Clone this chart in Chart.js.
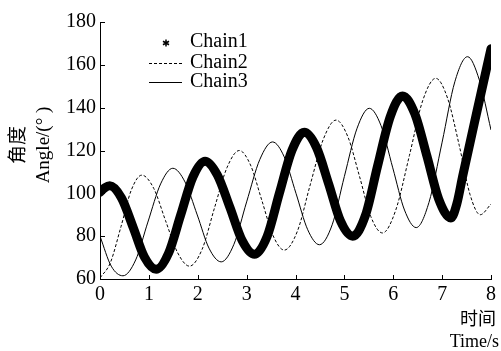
<!DOCTYPE html>
<html>
<head>
<meta charset="utf-8">
<script src="https://cdn.jsdelivr.net/npm/chart.js@4.4.1/dist/chart.umd.min.js"></script>
<style>
  html, body { margin: 0; padding: 0; background: #fff; }
  #wrap { width: 501px; height: 351px; }
</style>
</head>
<body>
<div id="wrap"><canvas id="chart" width="501" height="351"></canvas></div>
<script>
// time (s) and angle (deg)
const chain1T = [0, 0.1, 0.2, 0.44, 0.68, 0.91, 1.15, 1.4, 1.65, 1.9, 2.15, 2.4, 2.66, 2.91, 3.16,
  3.42, 3.67, 3.93, 4.18, 4.43, 4.68, 4.92, 5.17, 5.43, 5.68, 5.94, 6.19, 6.44, 6.69, 6.93, 7.18,
  7.3, 7.42, 7.71, 8];
const chain1V = [100.5, 102.6, 103.5, 97.8, 84, 70.2, 64.5, 71.9, 89.8, 107.6, 115, 108.6, 93.3, 77.9, 71.5,
  79.9, 100, 120.2, 128.5, 121.4, 104.3, 87.1, 80, 89.6, 112.8, 135.9, 145.5, 137.2, 117.3, 97.3, 88.5,
  95, 108, 138, 167.5];

const chain2T = [0, 0.21, 0.43, 0.64, 0.855, 1.1, 1.34, 1.59, 1.83, 2.09, 2.34, 2.6, 2.85, 3.08, 3.31,
  3.54, 3.77, 4.04, 4.3, 4.57, 4.83, 5.07, 5.31, 5.54, 5.78, 6.05, 6.33, 6.6, 6.87, 7.11, 7.35, 7.57,
  7.78, 8];
const chain2V = [60.5, 67.5, 84.5, 101.5, 108.5, 102.3, 87.3, 72.2, 66, 73.9, 93, 112.1, 120, 113.2, 96.8,
  80.3, 73.5, 82.4, 103.9, 125.3, 134.2, 126.5, 107.9, 89.2, 81.5, 92.1, 117.6, 143.1, 153.7, 144.5, 122.4, 99.5,
  90, 95];

const chain3T = [0, 0.23, 0.47, 0.73, 0.98, 1.24, 1.49, 1.74, 1.99, 2.23, 2.48, 2.74, 3.0, 3.27, 3.53,
  3.77, 4.01, 4.25, 4.49, 4.75, 5.0, 5.26, 5.51, 5.75, 5.99, 6.23, 6.47, 6.73, 7.0, 7.26, 7.52, 7.76, 8];
const chain3V = [80, 66, 61.5, 68.9, 86.6, 104.4, 111.7, 105.3, 89.9, 74.4, 68, 76.2, 96, 115.8, 124,
  117, 100, 83, 76, 85.3, 107.9, 130.4, 139.7, 131.6, 111.9, 92.2, 84, 95.7, 123.9, 152.1, 163.8, 153, 129.6];

const xTicks = [0, 8, 1];     // min, max, step
const yTicks = [60, 180, 20];
const seriesNames = ["Chain1", "Chain2", "Chain3"];
const xTitle = ["时间", "Time/s"];
const yTitle = ["角度", "Angle/(° )"];

const SERIF = "'Liberation Serif', 'Times New Roman', 'Noto Sans CJK SC', serif";

function pts(ts, vs) {
  return ts.map((t, i) => ({ x: t, y: vs[i] }));
}

// inward tick marks, axis titles and the in-plot legend
const extras = {
  id: "extras",
  afterDraw(chart) {
    const ctx = chart.ctx;
    const xs = chart.scales.x, ys = chart.scales.y;
    ctx.save();
    ctx.strokeStyle = "#000";
    ctx.lineWidth = 1;
    ctx.beginPath();
    xs.ticks.forEach((t) => {
      if (t.value === xTicks[0]) return;
      const px = Math.round(xs.getPixelForValue(t.value)) + 0.5;
      ctx.moveTo(px, xs.top);
      ctx.lineTo(px, xs.top - 4);
    });
    ys.ticks.forEach((t) => {
      if (t.value === yTicks[0]) return;
      const py = Math.round(ys.getPixelForValue(t.value)) + 0.5;
      ctx.moveTo(ys.right, py);
      ctx.lineTo(ys.right + 5, py);
    });
    ctx.stroke();

    ctx.fillStyle = "#000";
    ctx.textBaseline = "middle";

    // x title, right aligned under the axis end
    ctx.font = "18px " + SERIF;
    ctx.textAlign = "right";
    ctx.fillText(xTitle[0], 496, 320);
    ctx.fillText(xTitle[1], 499, 342);

    // y title, rotated
    ctx.textAlign = "center";
    [19, 44].forEach((cx, i) => {
      ctx.save();
      ctx.translate(cx, 145);
      ctx.rotate(-Math.PI / 2);
      ctx.font = (i === 0 ? "19px " : "19px ") + SERIF;
      ctx.fillText(yTitle[i], 0, 0);
      ctx.restore();
    });

    // legend
    const lx = 149, lw = 33, tx = 190;
    const rows = [42, 62.5, 82];
    ctx.font = "20px " + SERIF;
    ctx.textAlign = "left";
    chart.data.datasets.forEach((ds, i) => {
      const yy = rows[i];
      ctx.beginPath();
      if (i === 0) {
        const cx = 166, cy = yy + 1, r = 3.5;
        for (let k = 0; k < 3; k++) {
          const a = Math.PI / 2 + (k * Math.PI) / 3;
          ctx.moveTo(cx + r * Math.cos(a), cy + r * Math.sin(a));
          ctx.lineTo(cx - r * Math.cos(a), cy - r * Math.sin(a));
        }
        ctx.setLineDash([]);
        ctx.lineWidth = 1.5;
      } else {
        ctx.moveTo(lx, Math.round(yy) + 0.5);
        ctx.lineTo(lx + lw, Math.round(yy) + 0.5);
        ctx.setLineDash(ds.borderDash || []);
        ctx.lineWidth = 1;
      }
      ctx.stroke();
      ctx.setLineDash([]);
      ctx.fillText(ds.label, tx, yy);
    });
    ctx.restore();
  },
};

new Chart(document.getElementById("chart"), {
  type: "line",
  data: {
    datasets: [
      {
        label: seriesNames[0],
        data: pts(chain1T, chain1V),
        borderColor: "#000",
        borderWidth: 9,
        borderJoinStyle: "round",
        borderCapStyle: "round",
        pointRadius: 0,
        cubicInterpolationMode: "monotone",
      },
      {
        label: seriesNames[1],
        data: pts(chain2T, chain2V),
        borderColor: "#000",
        borderWidth: 1,
        borderDash: [3, 2],
        pointRadius: 0,
        cubicInterpolationMode: "monotone",
      },
      {
        label: seriesNames[2],
        data: pts(chain3T, chain3V),
        borderColor: "#000",
        borderWidth: 1,
        pointRadius: 0,
        cubicInterpolationMode: "monotone",
      },
    ],
  },
  options: {
    responsive: false,
    animation: false,
    events: [],
    layout: { padding: { top: 22, right: 10, left: 0, bottom: 0 } },
    plugins: { legend: { display: false }, tooltip: { enabled: false } },
    scales: {
      x: {
        type: "linear",
        min: xTicks[0],
        max: xTicks[1],
        afterFit: (s) => { s.height = 72; },
        ticks: { stepSize: xTicks[2], color: "#000", padding: 4, font: { family: SERIF, size: 20 } },
        grid: { display: false, drawTicks: false },
        border: { display: true, color: "#000", width: 1 },
      },
      y: {
        min: yTicks[0],
        max: yTicks[1],
        afterFit: (s) => { s.width = 100; },
        ticks: { stepSize: yTicks[2], color: "#000", padding: 4, font: { family: SERIF, size: 20 } },
        grid: { display: false, drawTicks: false },
        border: { display: true, color: "#000", width: 1 },
      },
    },
  },
  plugins: [extras],
});
</script>
</body>
</html>
